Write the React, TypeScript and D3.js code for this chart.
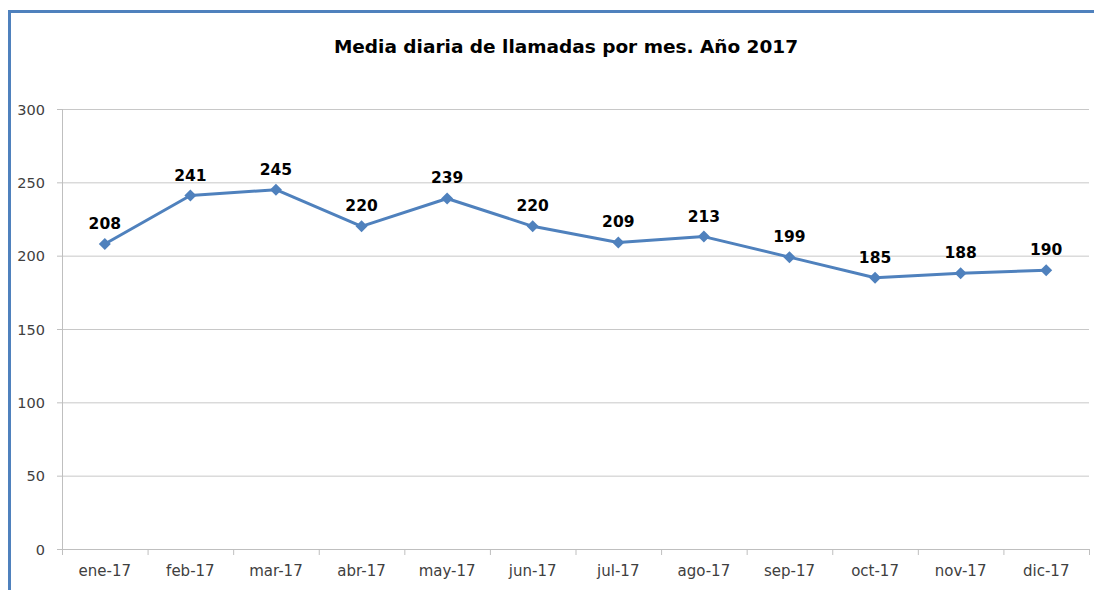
import { scaleBand, scaleLinear, line as d3_line } from "d3";

const months = [
  "ene-17", "feb-17", "mar-17", "abr-17", "may-17", "jun-17",
  "jul-17", "ago-17", "sep-17", "oct-17", "nov-17", "dic-17",
];
const values = [208, 241, 245, 220, 239, 220, 209, 213, 199, 185, 188, 190];
const yTicks = [0, 50, 100, 150, 200, 250, 300];
const title = "Media diaria de llamadas por mes. Año 2017";

const W = 1094;
const H = 590;
const FONT = "'Century Gothic', 'DejaVu Sans', sans-serif";
const BLUE = "#4f81bd";

export default function App() {
  // plot area
  const left = 62;
  const right = 1089;
  const top = 109;
  const bottom = 549;

  const x = scaleBand<string>().domain(months).range([left, right]);
  const y = scaleLinear().domain([0, 300]).range([bottom, top]);

  const cx = (m: string) => (x(m) ?? 0) + x.bandwidth() / 2;
  const pts = months.map((m, i) => ({ m, v: values[i] }));
  const path = d3_line<(typeof pts)[number]>()
    .x((d) => cx(d.m))
    .y((d) => y(d.v))(pts);

  const tickXs = [...months.map((m) => x(m) ?? 0), right];

  return (
    <div style={{ position: "absolute", left: 0, top: 0 }}>
      <svg width={W} height={H} style={{ display: "block" }}>
        <rect width={W} height={H} fill="#fff" />
        {/* chart frame (partly visible) */}
        <line x1={8} x2={W} y1={11.5} y2={11.5} stroke={BLUE} strokeWidth={3} />
        <line x1={9.5} x2={9.5} y1={10} y2={H} stroke={BLUE} strokeWidth={3} />

        <text
          x={566}
          y={53}
          textAnchor="middle"
          fontFamily={FONT}
          fontWeight="bold"
          fontSize={18.5}
          fill="#000"
        >
          {title}
        </text>

        {/* grid lines */}
        {yTicks.map((t) => (
          <g key={t}>
            {t > 0 && (
              <line
                x1={left}
                x2={right}
                y1={y(t) + 0.5}
                y2={y(t) + 0.5}
                stroke="#c8c8c8"
                strokeWidth={1}
              />
            )}
            <line
              x1={left - 5}
              x2={left}
              y1={y(t) + 0.5}
              y2={y(t) + 0.5}
              stroke="#bfbfbf"
            />
            <text
              x={45}
              y={y(t) + 0.5}
              dy="0.35em"
              textAnchor="end"
              fontFamily={FONT}
              fontSize={14.5}
              fill="#404040"
            >
              {t}
            </text>
          </g>
        ))}

        {/* axes */}
        <line x1={left + 0.5} x2={left + 0.5} y1={top} y2={bottom} stroke="#bfbfbf" />
        <line x1={left} x2={right} y1={bottom + 0.5} y2={bottom + 0.5} stroke="#bfbfbf" />
        {tickXs.map((tx, i) => (
          <line
            key={i}
            x1={tx + 0.5}
            x2={tx + 0.5}
            y1={bottom}
            y2={bottom + 6}
            stroke="#bfbfbf"
          />
        ))}
        {months.map((m) => (
          <text
            key={m}
            x={cx(m)}
            y={576}
            textAnchor="middle"
            fontFamily={FONT}
            fontSize={15}
            fill="#404040"
          >
            {m}
          </text>
        ))}

        {/* series */}
        <path d={path ?? ""} fill="none" stroke={BLUE} strokeWidth={3} strokeLinejoin="round" />
        {pts.map((d) => {
          const px = cx(d.m);
          const py = y(d.v);
          return (
            <g key={d.m}>
              <path
                d={`M${px},${py - 6}L${px + 6},${py}L${px},${py + 6}L${px - 6},${py}Z`}
                fill={BLUE}
              />
              <text
                x={px}
                y={py - 15}
                textAnchor="middle"
                fontFamily={FONT}
                fontWeight="bold"
                fontSize={15.5}
                fill="#000"
              >
                {d.v}
              </text>
            </g>
          );
        })}
      </svg>
    </div>
  );
}
